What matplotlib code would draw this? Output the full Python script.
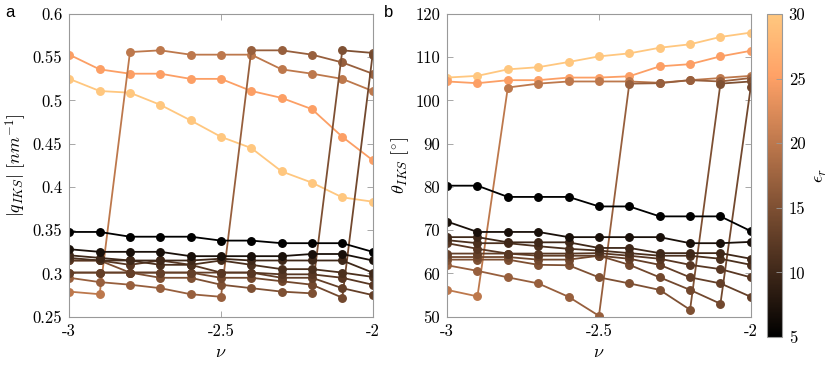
import numpy as np
import matplotlib
matplotlib.use("Agg")
import matplotlib.pyplot as plt
from matplotlib import cm, colors

plt.rcParams['mathtext.fontset'] = 'cm'

# nu sweep
nu = [-3.0, -2.9, -2.8, -2.7, -2.6, -2.5, -2.4, -2.3, -2.2, -2.1, -2.0]

# epsilon_r of each curve
eps = [5, 7, 10, 11, 12, 13, 14, 15, 17, 20, 25, 30]

# |q_IKS| [nm^-1], one list per epsilon_r
q_e5 = [0.348, 0.348, 0.3425, 0.3425, 0.3425, 0.338, 0.338, 0.335, 0.335, 0.335, 0.325]
q_e7 = [0.328, 0.325, 0.325, 0.325, 0.320, 0.320, 0.320, 0.320, 0.3225, 0.3225, 0.315]
q_e10 = [0.321, 0.318, 0.315, 0.315, 0.315, 0.317, 0.315, 0.315, 0.315, 0.315, 0.301]
q_e11 = [0.318, 0.315, 0.315, 0.310, 0.310, 0.315, 0.310, 0.305, 0.305, 0.301, 0.296]
q_e12 = [0.315, 0.315, 0.310, 0.315, 0.310, 0.301, 0.301, 0.299, 0.299, 0.295, 0.287]
q_e13 = [0.301, 0.301, 0.301, 0.301, 0.301, 0.301, 0.301, 0.295, 0.295, 0.283, 0.275]
q_e14 = [0.301, 0.301, 0.301, 0.301, 0.301, 0.295, 0.295, 0.291, 0.287, 0.272, 0.553]
q_e15 = [0.315, 0.315, 0.301, 0.295, 0.295, 0.287, 0.283, 0.279, 0.277, 0.558, 0.555]
q_e17 = [0.295, 0.290, 0.287, 0.283, 0.276, 0.273, 0.558, 0.558, 0.553, 0.544, 0.531]
q_e20 = [0.279, 0.276, 0.556, 0.558, 0.553, 0.553, 0.553, 0.536, 0.531, 0.525, 0.511]
q_e25 = [0.553, 0.536, 0.531, 0.531, 0.525, 0.525, 0.511, 0.503, 0.490, 0.458, 0.431]
q_e30 = [0.525, 0.511, 0.509, 0.495, 0.477, 0.458, 0.445, 0.418, 0.405, 0.388, 0.383]

# theta_IKS [deg]
t_e5 = [80.3, 80.3, 77.7, 77.7, 77.7, 75.5, 75.5, 73.2, 73.2, 73.2, 69.8]
t_e7 = [72.0, 69.6, 69.6, 69.6, 68.4, 68.4, 68.4, 68.4, 67.0, 67.0, 67.3]
t_e10 = [68.4, 68.4, 67.2, 67.2, 67.2, 65.9, 65.9, 64.7, 64.7, 64.7, 63.4]
t_e11 = [67.7, 67.0, 67.0, 66.3, 65.7, 65.3, 64.7, 64.1, 64.1, 63.4, 62.0]
t_e12 = [67.0, 65.7, 64.6, 64.6, 64.6, 64.7, 64.1, 63.4, 62.0, 61.0, 59.1]
t_e13 = [64.6, 64.6, 64.6, 64.1, 64.1, 64.1, 63.4, 62.0, 59.1, 57.7, 54.6]
t_e14 = [63.8, 63.8, 63.8, 63.2, 63.2, 64.1, 62.0, 59.1, 56.2, 53.0, 103.2]
t_e15 = [63.2, 63.2, 63.2, 62.0, 61.9, 59.1, 57.7, 56.2, 51.6, 103.9, 104.4]
t_e17 = [61.9, 60.6, 59.1, 57.7, 54.6, 50.2, 103.9, 104.0, 104.7, 104.4, 105.2]
t_e20 = [56.2, 54.7, 103.0, 103.9, 104.4, 104.4, 104.4, 104.1, 104.7, 105.2, 105.7]
t_e25 = [104.4, 104.0, 104.7, 104.7, 105.3, 105.3, 105.6, 107.9, 108.4, 110.2, 111.5]
t_e30 = [105.3, 105.7, 107.2, 107.7, 108.9, 110.2, 110.9, 112.2, 113.0, 114.7, 115.7]

q_all = [q_e5, q_e7, q_e10, q_e11, q_e12, q_e13, q_e14, q_e15, q_e17, q_e20, q_e25, q_e30]
t_all = [t_e5, t_e7, t_e10, t_e11, t_e12, t_e13, t_e14, t_e15, t_e17, t_e20, t_e25, t_e30]

norm = colors.Normalize(vmin=5, vmax=30)
cmap = plt.get_cmap('copper')

fig = plt.figure(figsize=(8.31, 3.66), dpi=100)
axa = fig.add_axes([0.0834, 0.1347, 0.365, 0.827])
axb = fig.add_axes([0.538, 0.1347, 0.3655, 0.827])
cax = fig.add_axes([0.9234, 0.0792, 0.0173, 0.8825])

tickfont = dict(family='cmr10', size=12)

for ax, data in [(axa, q_all), (axb, t_all)]:
    # low eps drawn last so dark lines sit on top
    for e, y in sorted(zip(eps, data), key=lambda p: -p[0]):
        ax.plot(nu, y, '-o', color=cmap(norm(e)), lw=1.3, ms=5.4, mec=cmap(norm(e)))
    ax.set_xlim(-3, -2)
    ax.set_xticks([-3, -2.5, -2])
    ax.set_xticklabels(['-3', '-2.5', '-2'], **tickfont)
    ax.tick_params(direction='in', top=True, right=True, length=4, width=0.6,
                   color='#999999', pad=5)
    for s in ax.spines.values():
        s.set_color('#999999')
        s.set_linewidth(0.8)
    ax.set_xlabel(r'$\nu$', fontsize=13, labelpad=3)

axa.set_ylim(0.25, 0.6)
yt_a = [0.25, 0.3, 0.35, 0.4, 0.45, 0.5, 0.55, 0.6]
axa.set_yticks(yt_a)
axa.set_yticklabels(['0.25', '0.3', '0.35', '0.4', '0.45', '0.5', '0.55', '0.6'], **tickfont)
axa.set_ylabel(r'$|q_{IKS}|\ [nm^{-1}]$', fontsize=13, labelpad=3)

axb.set_ylim(50, 120)
yt_b = [50, 60, 70, 80, 90, 100, 110, 120]
axb.set_yticks(yt_b)
axb.set_yticklabels([str(v) for v in yt_b], **tickfont)
axb.set_ylabel(r'$\theta_{IKS}\ [^{\circ}]$', fontsize=13, labelpad=3)

sm = cm.ScalarMappable(norm=norm, cmap=cmap)
cb = fig.colorbar(sm, cax=cax)
cb.set_ticks([5, 10, 15, 20, 25, 30])
cb.set_ticklabels(['5', '10', '15', '20', '25', '30'], **tickfont)
cb.ax.tick_params(direction='in', length=4, width=0.6, color='#999999', pad=5)
cb.outline.set_edgecolor('#999999')
cb.outline.set_linewidth(0.8)
cb.set_label(r'$\epsilon_r$', fontsize=13, labelpad=4)

fig.text(0.006, 0.965, 'a', fontsize=12, family='Liberation Sans', va='center')
fig.text(0.462, 0.965, 'b', fontsize=12, family='Liberation Sans', va='center')

fig.savefig('out.png', dpi=100)
